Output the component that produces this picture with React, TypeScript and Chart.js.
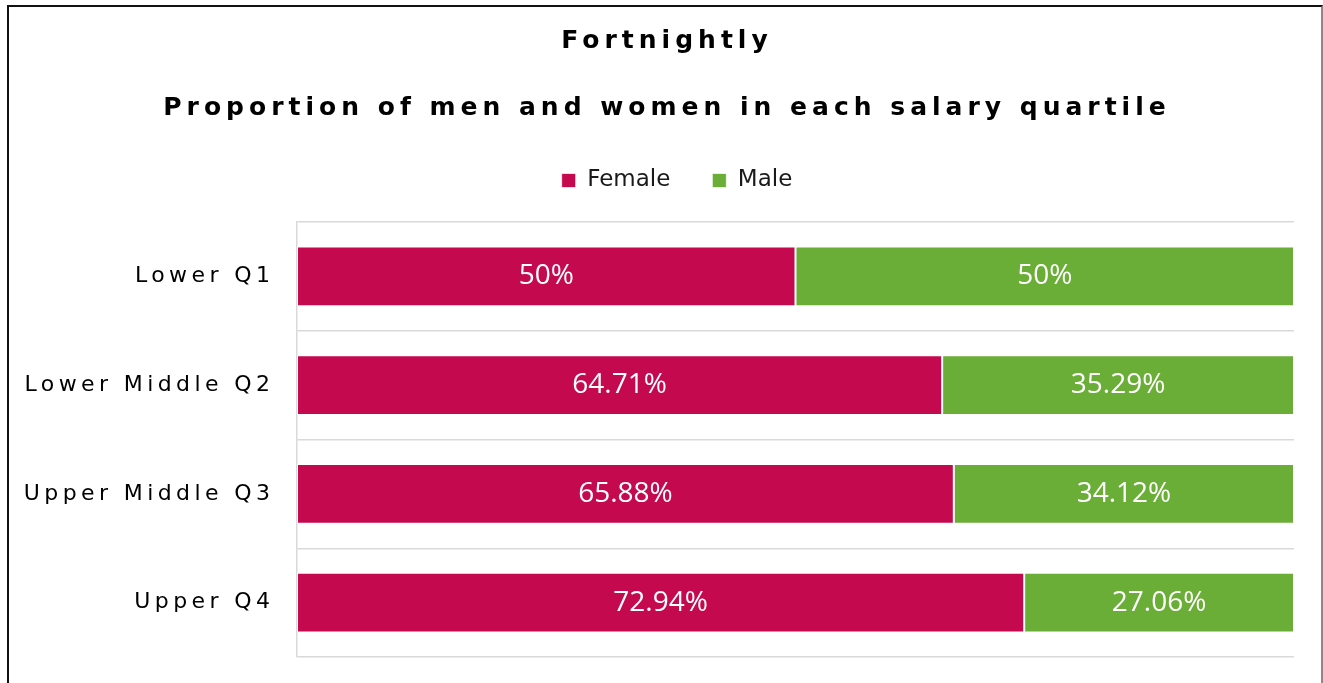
import React, { useEffect, useRef } from 'react';
import { Chart, registerables } from 'chart.js';

Chart.register(...registerables);

const TITLE_LINE_1 = 'Fortnightly';
const TITLE_LINE_2 = 'Proportion of men and women in each salary quartile';
const CATEGORIES = ['Lower Q1', 'Lower Middle Q2', 'Upper Middle Q3', 'Upper Q4'];
const SERIES_NAMES = ['Female', 'Male'];
const FEMALE = [50, 64.71, 65.88, 72.94];
const MALE = [50, 35.29, 34.12, 27.06];
const COLORS = ['#C5094F', '#6AAD37'];

const FONT = '"DejaVu Sans", Verdana, sans-serif';
const TITLE_SPACING = '5px';
const TICK_SPACING = '4.4px';
const LEGEND_HEIGHT = 95;
const LEGEND_SHIFT = 30;
const TITLE_SHIFT = 20;

const isTitleBox = (box: any) =>
  box.options && typeof box.options.text !== 'undefined' && !box.options.labels;

const customPlugin: any = {
  id: 'customLook',
  beforeLayout(chart: any) {
    const lg = chart.legend;
    if (lg && !lg.__patched) {
      const f = lg.fit;
      lg.fit = function () {
        f.call(this);
        this.height = LEGEND_HEIGHT;
      };
      lg.__patched = true;
    }
  },
  afterLayout(chart: any) {
    const lg = chart.legend;
    if (lg) {
      lg.left += LEGEND_SHIFT;
      lg.right += LEGEND_SHIFT;
    }
    chart.boxes.forEach((box: any) => {
      if (isTitleBox(box)) {
        box.left += TITLE_SHIFT;
        box.right += TITLE_SHIFT;
      }
    });
  },
  beforeDraw(chart: any) {
    const ctx = chart.ctx;
    chart.boxes.forEach((box: any) => {
      if (box.__spaced) return;
      if (isTitleBox(box)) {
        const orig = box.draw;
        box.draw = function (area: any) {
          ctx.save();
          ctx.letterSpacing = TITLE_SPACING;
          orig.call(this, area);
          ctx.restore();
        };
        box.__spaced = true;
      }
    });
    const y = chart.scales.y;
    if (y && !y.__spaced) {
      const orig = y.drawLabels;
      y.drawLabels = function (area: any) {
        ctx.save();
        ctx.letterSpacing = TICK_SPACING;
        orig.call(this, area);
        ctx.restore();
      };
      y.__spaced = true;
    }
  },
  afterDatasetsDraw(chart: any) {
    const ctx = chart.ctx;
    ctx.save();
    ctx.font = '28px "Open Sans", sans-serif';
    ctx.fillStyle = '#ffffff';
    ctx.textAlign = 'center';
    ctx.textBaseline = 'middle';
    chart.data.datasets.forEach((ds: any, i: number) => {
      const meta = chart.getDatasetMeta(i);
      meta.data.forEach((el: any, j: number) => {
        const p = el.getProps(['x', 'y', 'base'], true);
        ctx.fillText(`${ds.data[j]}%`, (p.x + p.base) / 2, p.y);
      });
    });
    ctx.restore();
  },
};

export default function App() {
  const ref = useRef<HTMLCanvasElement | null>(null);

  useEffect(() => {
    if (!ref.current) return;
    const titleFont = { family: FONT, size: 25, weight: 'bold' as const, lineHeight: 1.2 };
    const chart = new Chart(ref.current, {
      type: 'bar',
      data: {
        labels: CATEGORIES,
        datasets: [
          {
            label: SERIES_NAMES[0],
            data: FEMALE,
            backgroundColor: COLORS[0],
            borderColor: 'rgba(255,255,255,0.7)',
            borderWidth: 1,
            borderSkipped: false,
            barPercentage: 0.55,
            categoryPercentage: 1,
          },
          {
            label: SERIES_NAMES[1],
            data: MALE,
            backgroundColor: COLORS[1],
            borderColor: 'rgba(255,255,255,0.7)',
            borderWidth: 1,
            borderSkipped: false,
            barPercentage: 0.55,
            categoryPercentage: 1,
          },
        ],
      },
      options: {
        indexAxis: 'y',
        responsive: false,
        animation: false,
        layout: { padding: { left: 0, right: 29, top: 0, bottom: 26 } },
        scales: {
          x: { display: false, stacked: true, min: 0, max: 100 },
          y: {
            stacked: true,
            grid: { color: '#d9d9d9', lineWidth: 1.5, drawTicks: false, offset: true },
            border: { color: '#d9d9d9', width: 1.5 },
            ticks: { color: '#000', font: { family: FONT, size: 22 }, padding: 22.6 },
            afterFit: (s: any) => {
              s.width = 297;
              s.paddingTop = 0;
              s.paddingBottom = 0;
            },
          },
        },
        plugins: {
          title: {
            display: true,
            text: TITLE_LINE_1,
            font: titleFont,
            color: '#000',
            padding: { top: 26, bottom: 0 },
          },
          subtitle: {
            display: true,
            text: TITLE_LINE_2,
            font: titleFont,
            color: '#000',
            padding: { top: 37.5, bottom: 3.5 },
          },
          legend: {
            display: true,
            labels: {
              boxWidth: 14,
              boxHeight: 14,
              font: { family: FONT, size: 23 },
              color: '#1a1a1a',
              padding: 42,
            },
          },
          tooltip: { enabled: false },
        },
      } as any,
      plugins: [customPlugin],
    });
    return () => chart.destroy();
  }, []);

  return (
    <div>
      <div
        style={{
          position: 'fixed',
          left: 7,
          top: 5,
          width: 1316,
          height: 678,
          boxSizing: 'border-box',
          borderLeft: '2px solid #111',
          borderTop: '2px solid #111',
          borderRight: '2px solid #888',
        }}
      />
      <canvas
        ref={ref}
        width={1323}
        height={683}
        style={{ position: 'fixed', left: 0, top: 0, width: 1323, height: 683 }}
      />
    </div>
  );
}
